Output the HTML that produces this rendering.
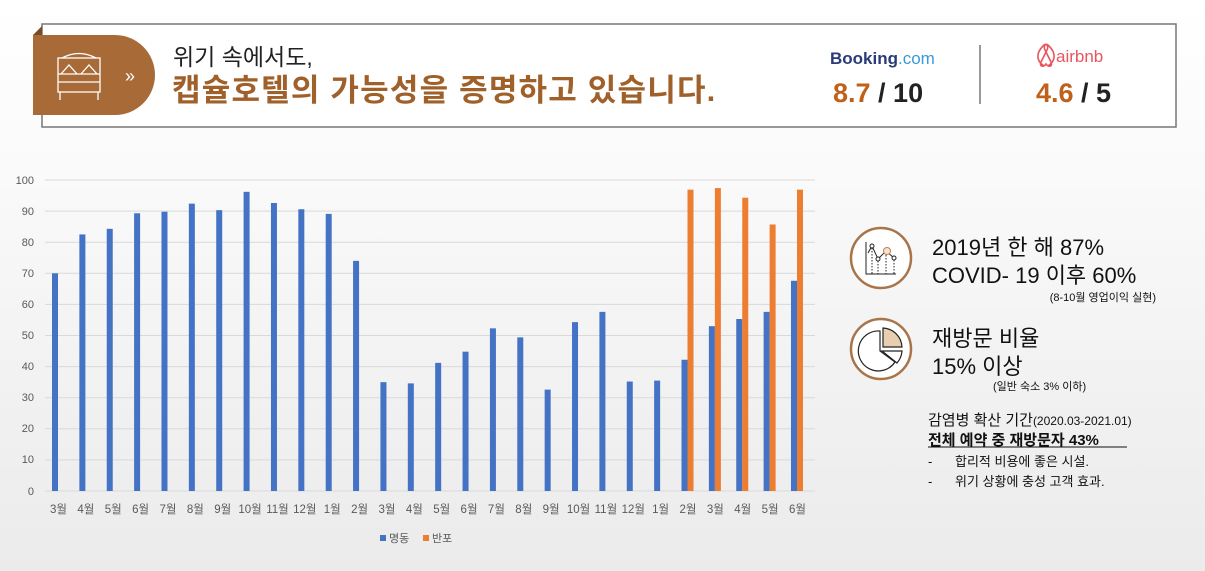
<!DOCTYPE html>
<html><head><meta charset="utf-8">
<style>
*{margin:0;padding:0}
body{width:1205px;height:571px;overflow:hidden;background:linear-gradient(180deg,#ffffff 0%,#fafafa 30%,#f1f1f1 70%,#ebebeb 100%);font-family:"Liberation Sans","Noto Sans CJK KR",sans-serif;position:relative}
svg{position:absolute;left:0;top:0}
</style></head><body>
<svg width="1205" height="571" viewBox="0 0 1205 571" xmlns="http://www.w3.org/2000/svg" font-family="Liberation Sans, Noto Sans CJK KR, sans-serif">
<rect x="42" y="24" width="1134" height="103" fill="#fff" stroke="#777" stroke-width="1.5"/>
<path d="M33 35 H115 A40 40 0 0 1 115 115 H33 Z" fill="#a86b38"/>
<path d="M33 35 L42 26 L42 35 Z" fill="#7a4a22"/>
<g stroke="#fff" stroke-width="1.3" fill="none">
<rect x="58" y="58" width="42" height="34"/><line x1="58" y1="74" x2="100" y2="74"/><line x1="58" y1="82" x2="100" y2="82"/>
<path d="M61 74 L69 65 L77 74 M81 74 L89 65 L97 74"/><path d="M62 58 Q79 49 96 58"/>
<line x1="60" y1="92" x2="60" y2="100"/><line x1="98" y1="92" x2="98" y2="100"/>
</g>
<text x="125" y="82" fill="#fff" font-size="18">»</text>
<text x="173" y="65" font-size="23" fill="#222">위기 속에서도,</text>
<text x="172" y="101" font-size="31" font-weight="bold" fill="#a0602a" letter-spacing="1.2">캡슐호텔의 가능성을 증명하고 있습니다.</text>
<text x="830" y="64" font-size="17" font-weight="bold" fill="#2b3a78">Booking<tspan fill="#3a9ad9" font-weight="normal">.com</tspan></text>
<text x="833" y="102" font-size="27" font-weight="bold" fill="#c0601a">8.7 <tspan fill="#222">/ 10</tspan></text>
<line x1="980" y1="45" x2="980" y2="104" stroke="#777" stroke-width="1.5"/>
<path d="M1047 66 C1038 60 1040 52 1046 46 C1049 42 1052 46 1050 50 L1044 62 C1042 66 1046 68 1049 64 C1052 68 1056 66 1054 62 L1048 50 C1046 46 1049 42 1052 46 C1058 52 1060 60 1051 66" fill="none" stroke="#e8555f" stroke-width="1.6" transform="translate(-3,0)"/>
<text x="1056" y="62" font-size="17" fill="#e8555f">airbnb</text>
<text x="1036" y="102" font-size="27" font-weight="bold" fill="#c0601a">4.6 <tspan fill="#222">/ 5</tspan></text>

<g id="chart">
<g stroke="#d9d9d9" stroke-width="1">
<line x1="45" y1="180" x2="815" y2="180"/><line x1="45" y1="211.1" x2="815" y2="211.1"/><line x1="45" y1="242.2" x2="815" y2="242.2"/><line x1="45" y1="273.3" x2="815" y2="273.3"/><line x1="45" y1="304.4" x2="815" y2="304.4"/><line x1="45" y1="335.5" x2="815" y2="335.5"/><line x1="45" y1="366.6" x2="815" y2="366.6"/><line x1="45" y1="397.7" x2="815" y2="397.7"/><line x1="45" y1="428.8" x2="815" y2="428.8"/><line x1="45" y1="459.9" x2="815" y2="459.9"/><line x1="45" y1="491" x2="815" y2="491"/>
</g>
<g font-size="11" fill="#595959" text-anchor="end">
<text x="34" y="184">100</text><text x="34" y="215">90</text><text x="34" y="246">80</text><text x="34" y="277">70</text><text x="34" y="308">60</text><text x="34" y="339">50</text><text x="34" y="370">40</text><text x="34" y="401">30</text><text x="34" y="432">20</text><text x="34" y="463">10</text><text x="34" y="495">0</text>
</g>
<g id="bars"></g>
<g id="labels" font-size="11.5" fill="#595959" text-anchor="middle"></g>
<rect x="380" y="535" width="6" height="6" fill="#4472c4"/><text x="389" y="542" font-size="11" fill="#595959">명동</text>
<rect x="423" y="535" width="6" height="6" fill="#ed7d31"/><text x="432" y="542" font-size="11" fill="#595959">반포</text>
</g>

<circle cx="881" cy="258" r="30" fill="#fff" stroke="#a8754a" stroke-width="2.5"/>
<g stroke="#222" stroke-width="1" fill="none">
<path d="M866 242 V274 H896"/><path d="M868 253 L872 246 L878 259 L886 251 L894 258"/>
<circle cx="872" cy="246" r="2" fill="#fff"/><circle cx="878" cy="259" r="2" fill="#fff"/><circle cx="894" cy="258" r="2" fill="#fff"/>
<circle cx="887" cy="251" r="3.5" stroke="#c08050" fill="#f4e4d4"/>
<path d="M872 248V274M878 261V274M886 255V274M894 260V274" stroke-dasharray="1.5 1.5"/>
</g>
<circle cx="881" cy="349" r="30" fill="#fff" stroke="#a8754a" stroke-width="2.5"/>
<g stroke="#222" stroke-width="1.2" fill="none">
<path d="M880 331 A20 20 0 1 0 895 362 L880 351 Z" fill="#fff"/>
<path d="M883 328 A20 20 0 0 1 902 347 L883 347 Z" fill="#e8cdb0"/>
<path d="M882 351 L902 351 A20 20 0 0 1 897 363 Z"/>
</g>
<g fill="#111">
<text x="932" y="255" font-size="22">2019년 한 해 87%</text>
<text x="932" y="283" font-size="22">COVID- 19 이후 60%</text>
<text x="1156" y="301" font-size="11" text-anchor="end">(8-10월 영업이익 실현)</text>
<text x="932" y="346" font-size="22">재방문 비율</text>
<text x="932" y="374" font-size="22">15% 이상</text>
<text x="993" y="390" font-size="11">(일반 숙소 3% 이하)</text>
<text x="928" y="425" font-size="15">감염병 확산 기간<tspan font-size="12">(2020.03-2021.01)</tspan></text>
<text x="928" y="445" font-size="15" font-weight="bold">전체 예약 중 재방문자 43%</text>
<line x1="928" y1="447" x2="1127" y2="447" stroke="#111" stroke-width="1"/>
<text x="928" y="466" font-size="13">-</text><text x="955" y="466" font-size="13">합리적 비용에 좋은 시설.</text>
<text x="928" y="486" font-size="13">-</text><text x="955" y="486" font-size="13">위기 상황에 충성 고객 효과.</text>
</g>
</svg>
<script>
var b=[70,82.5,84.3,89.3,89.8,92.4,90.3,96.2,92.6,90.6,89.1,74,35,34.6,41.2,44.8,52.3,49.4,32.6,54.3,57.6,35.2,35.5,42.2,53,55.3,57.6,67.6];
var o={23:96.9,24:97.4,25:94.3,26:85.7,27:96.9};
var L=["3월","4월","5월","6월","7월","8월","9월","10월","11월","12월","1월","2월","3월","4월","5월","6월","7월","8월","9월","10월","11월","12월","1월","2월","3월","4월","5월","6월"];
var ns="http://www.w3.org/2000/svg",g=document.getElementById("bars"),lg=document.getElementById("labels");
function r(x,y,w,h,c){var e=document.createElementNS(ns,"rect");e.setAttribute("x",x);e.setAttribute("y",y);e.setAttribute("width",w);e.setAttribute("height",h);e.setAttribute("fill",c);g.appendChild(e);}
for(var i=0;i<28;i++){var cx=58.5+i*27.37;var h=b[i]*3.11;r(cx-6.5,491-h,6,h,"#4472c4");
if(o[i]){var h2=o[i]*3.11;r(cx-0.5,491-h2,6,h2,"#ed7d31");}
var t=document.createElementNS(ns,"text");t.setAttribute("x",cx);t.setAttribute("y",513);t.textContent=L[i];lg.appendChild(t);}
</script>
</body></html>
